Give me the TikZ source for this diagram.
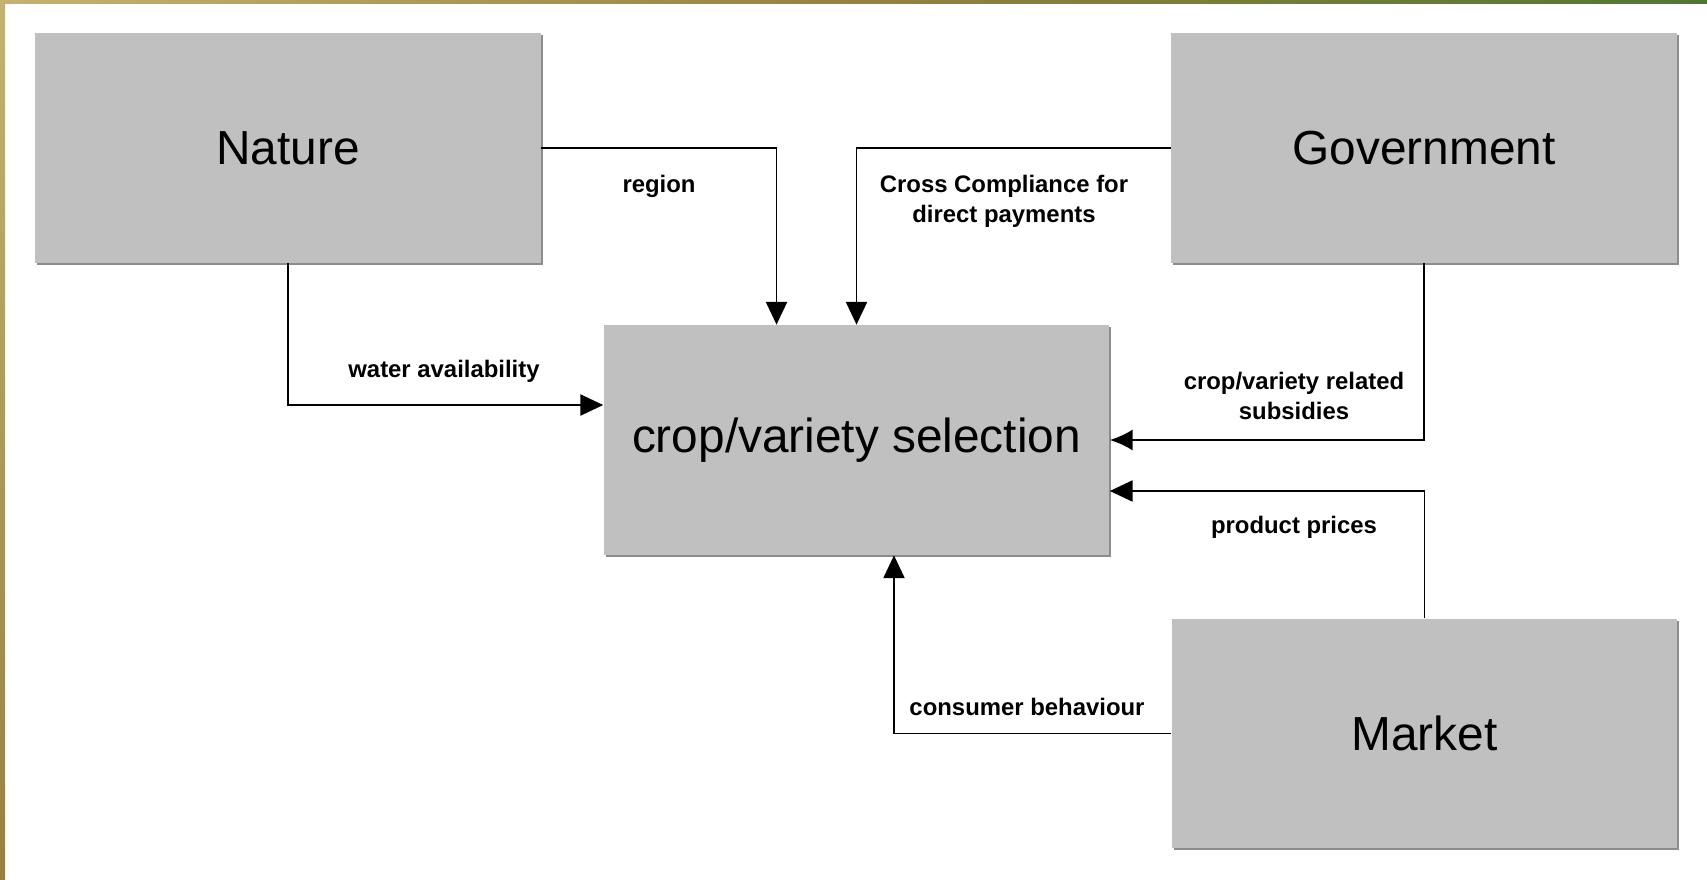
\documentclass[tikz,border=0pt]{standalone}
\usepackage{fontspec}
\setmainfont{Liberation Sans}
\usetikzlibrary{arrows.meta,shadows}

\definecolor{boxgray}{RGB}{192,192,192}
\definecolor{shadowgray}{RGB}{140,140,140}
\definecolor{goldA}{RGB}{196,178,110}
\definecolor{goldB}{RGB}{150,130,60}
\definecolor{greenA}{RGB}{80,120,50}

\begin{document}
\begin{tikzpicture}[x=0.02cm,y=-0.02cm,
  block/.style={fill=boxgray, minimum width=10.12cm, minimum height=4.6cm, inner sep=0pt,
    font=\fontsize{27.2}{32}\selectfont,
    drop shadow={shadow xshift=0.04cm, shadow yshift=-0.04cm, fill=shadowgray, opacity=1}},
  lbl/.style={font=\bfseries\fontsize{13.6}{17}\selectfont, align=center, inner sep=0pt},
  arr/.style={line width=1.1pt, -{Triangle[length=13pt,width=12pt]}},
  arrb/.style={line width=1.1pt, -{Latex[length=13pt,width=12pt]}}
]
\useasboundingbox (0,0) rectangle (1707,879);
\fill[white] (0,0) rectangle (1707,879);
% photo border remnants
\shade[left color=goldA, right color=greenA, middle color=goldB] (0,0) rectangle (1707,3);
\shade[top color=goldA, bottom color=goldB] (0,0) rectangle (5,879);

% boxes
\node[block] (nature) at (288,148) {Nature};
\node[block] (gov) at (1424,148) {Government};
\node[block] (sel) at (856.5,440) {crop/variety selection};
\node[block] (market) at (1424.5,733.5) {Market};

% connectors
\draw[arr] (nature.east) -| ([xshift=-1.6cm]sel.north);
\draw[arr] (gov.west) -| (sel.north);
\draw[arr] (nature.south) |- ([yshift=0.7cm]sel.west);
\draw[arrb] (gov.south) |- (sel.east);
\draw[arr] (market.north) |- ([yshift=-1.02cm]sel.east);
\draw[arr] (market.west) -| ([xshift=0.75cm]sel.south);

% labels
\node[lbl] (lregion) at (659,186) {region};
\node[lbl] (lcross) at (1004,201) {Cross Compliance for\\direct payments};
\node[lbl] (lwater) at (444,371) {water availability};
\node[lbl] (lsubs) at (1294,396) {crop/variety related\\subsidies};
\node[lbl] (lprice) at (1294,527) {product prices};
\node[lbl] (lcons) at (1027,707) {consumer behaviour};
\end{tikzpicture}
\end{document}
